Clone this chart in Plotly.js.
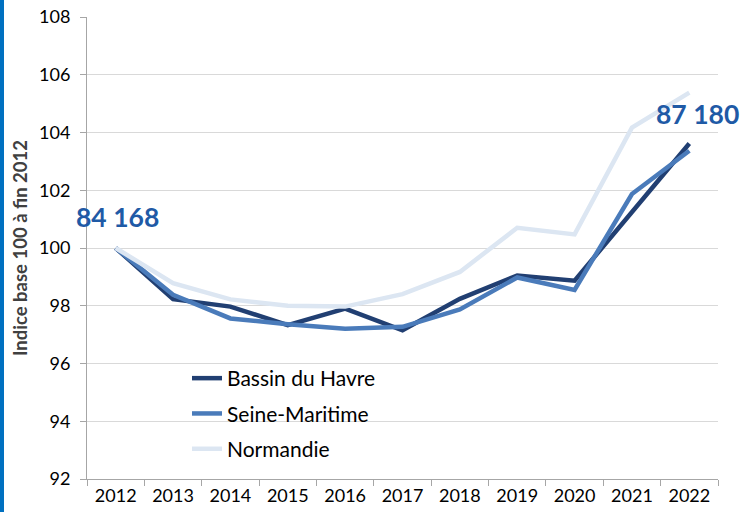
<!DOCTYPE html>
<html>
<head>
<meta charset="utf-8">
<script src="https://cdn.plot.ly/plotly-3.0.1.min.js"></script>
<style>
  html, body { margin: 0; padding: 0; background: #ffffff; }
  #chart { width: 744px; height: 512px; }
</style>
</head>
<body>
<div id="chart"></div>
<script>
const years = ['2012','2013','2014','2015','2016','2017','2018','2019','2020','2021','2022'];
const bassinHavre = [100, 98.23, 97.97, 97.33, 97.90, 97.15, 98.24, 99.05, 98.87, 101.25, 103.62];
const seineMaritime = [100, 98.38, 97.56, 97.36, 97.20, 97.27, 97.87, 98.98, 98.55, 101.87, 103.37];
const normandie = [100, 98.78, 98.22, 98.00, 97.97, 98.40, 99.17, 100.70, 100.47, 104.17, 105.38];
const seriesNames = ['Bassin du Havre', 'Seine-Maritime', 'Normandie'];
const startLabel = '84 168';
const endLabel = '87 180';
const yTicks = [92, 94, 96, 98, 100, 102, 104, 106, 108];

const colors = ['#213F72', '#4A7BBA', '#DCE6F2'];
const allSeries = [bassinHavre, seineMaritime, normandie];

const traces = allSeries.map((vals, i) => ({
  type: 'scatter',
  mode: 'lines',
  x: years,
  y: vals,
  name: seriesNames[i],
  legendgroup: 'g' + i,
  line: { color: colors[i], width: 4.5, shape: 'linear' },
  hoverinfo: 'x+y+name'
}));

const L = 87, R = 26, T = 17, B = 33;
const W = 744, H = 512;
const pw = W - L - R, ph = H - T - B;

const layout = {
  width: W, height: H,
  margin: { l: L, r: R, t: T, b: B, pad: 0 },
  paper_bgcolor: '#ffffff',
  plot_bgcolor: '#ffffff',
  font: { family: 'Lato, "Open Sans", sans-serif', color: '#000000', size: 18 },
  showlegend: true,
  legend: {
    x: (187 - L) / pw, y: (H - B - 358) / ph,
    xanchor: 'left', yanchor: 'top',
    bgcolor: 'rgba(0,0,0,0)', borderwidth: 0,
    font: { size: 21, color: '#000000' },
    tracegroupgap: 5,
    traceorder: 'grouped'
  },
  xaxis: {
    type: 'category',
    range: [-0.5, 10.5],
    showgrid: false,
    showline: true, linecolor: '#A6A6A6', linewidth: 1,
    ticks: 'outside', tickson: 'boundaries', ticklen: 6, tickcolor: '#A6A6A6',
    tickfont: { size: 18, color: '#000000' },
    fixedrange: true
  },
  yaxis: {
    range: [92, 108],
    tickvals: yTicks,
    ticktext: yTicks.map(String),
    showgrid: true, gridcolor: '#D9D9D9', gridwidth: 1,
    zeroline: false,
    showline: true, linecolor: '#A6A6A6', linewidth: 1,
    ticks: 'outside', ticklen: 6, tickcolor: '#A6A6A6',
    ticklabelstandoff: 6,
    tickfont: { size: 18, color: '#000000' },
    title: { text: 'Indice base 100 à fin 2012', font: { size: 18.5, color: '#404040', weight: 'bold' }, standoff: 6 },
    fixedrange: true
  },
  annotations: [
    { x: 0, y: 101.07, xref: 'x', yref: 'y', text: startLabel, showarrow: false,
      xshift: 2, font: { size: 26.5, color: '#1F5AA6', weight: 'bold' }, xanchor: 'center', yanchor: 'middle' },
    { x: years.length - 1, y: 104.64, xref: 'x', yref: 'y', text: endLabel, showarrow: false,
      xshift: 8, font: { size: 26.5, color: '#1F5AA6', weight: 'bold' }, xanchor: 'center', yanchor: 'middle' }
  ],
  shapes: [
    { type: 'rect', xref: 'paper', yref: 'paper', x0: -L / pw, x1: (4 - L) / pw, y0: -B / ph, y1: 1 + T / ph,
      fillcolor: '#0070C0', line: { width: 0 }, layer: 'above' }
  ]
};

Plotly.newPlot('chart', traces, layout, { displayModeBar: false, staticPlot: true });
</script>
</body>
</html>
